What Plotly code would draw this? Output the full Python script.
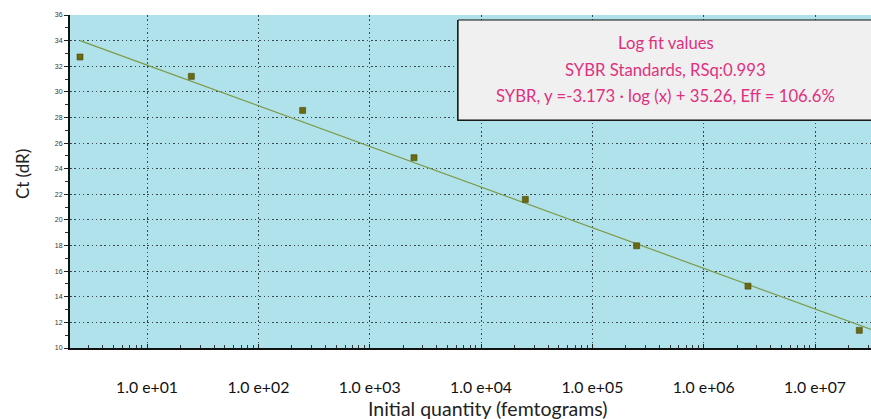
import math
import plotly.graph_objects as go

# ---- data ----
quantity_fg = [2.5, 25, 250, 2500, 25000, 250000, 2500000, 25000000]
ct_dr = [32.72, 31.21, 28.55, 24.86, 21.60, 17.98, 14.83, 11.38]
fit_slope = -3.173
fit_intercept = 35.26
fit_x_ends = [2.5, 4.0e7]
x_tick_vals = [1e1, 1e2, 1e3, 1e4, 1e5, 1e6, 1e7]
x_tick_text = ["1.0 e+01", "1.0 e+02", "1.0 e+03", "1.0 e+04", "1.0 e+05", "1.0 e+06", "1.0 e+07"]
y_tick_vals = [10, 12, 14, 16, 18, 20, 22, 24, 26, 28, 30, 32, 34, 36]
box_lines = ["Log fit values",
             "SYBR Standards, RSq:0.993",
             "SYBR, y =-3.173 · log (x) + 35.26, Eff = 106.6%"]

fit_y = [fit_slope * math.log10(v) + fit_intercept for v in fit_x_ends]
minor_x = [m * 10 ** e for e in range(0, 8) for m in range(2, 10)]

FONT = "Lato"
GRID = "#3a474f"
DOTS = "1.5px,2.8px"

fig = go.Figure()
fig.add_trace(go.Scatter(x=fit_x_ends, y=fit_y, mode="lines",
                         line=dict(color="#7d9a48", width=1.2),
                         hoverinfo="skip", showlegend=False))
fig.add_trace(go.Scatter(x=quantity_fg, y=ct_dr, mode="markers",
                         marker=dict(symbol="square", size=6, color="#6b6a12",
                                     line=dict(color="#4a4a08", width=0.6)),
                         showlegend=False))

fig.update_layout(
    width=871, height=419,
    margin=dict(l=70, r=0, t=15, b=71),
    paper_bgcolor="white",
    plot_bgcolor="#b0e2eb",
    font=dict(family=FONT, color="#222222"),
    xaxis=dict(
        type="log",
        range=[0.308, 7.503],
        tickvals=x_tick_vals, ticktext=x_tick_text,
        tickfont=dict(size=15.8, color="#111111", family=FONT),
        ticks="inside", ticklen=4, tickcolor="#222222",
        ticklabelstandoff=24,
        minor=dict(tickvals=minor_x, ticks="inside", ticklen=3,
                   tickcolor="#333333", showgrid=False),
        showgrid=True, gridcolor=GRID, griddash=DOTS, gridwidth=1,
        showline=True, linecolor="#111111", linewidth=2,
        zeroline=False,
    ),
    yaxis=dict(
        range=[10, 36],
        tickvals=y_tick_vals,
        tickfont=dict(size=7, color="#333333", family="Liberation Sans"),
        ticks="outside", ticklen=4, tickcolor="#222222",
        minor=dict(dtick=1, ticks="outside", ticklen=3, tickcolor="#333333", showgrid=False),
        showgrid=True, gridcolor=GRID, griddash=DOTS, gridwidth=1,
        showline=True, linecolor="#111111", linewidth=2,
        zeroline=False,
    ),
)

# axis titles
fig.add_annotation(text="Initial quantity (femtograms)", xref="paper", yref="paper",
                   x=0.522, y=-0.183, xanchor="center", yanchor="middle", showarrow=False,
                   font=dict(size=19.5, family=FONT, color="#222222"))
fig.add_annotation(text="Ct (dR)", xref="paper", yref="paper", textangle=-90,
                   x=-0.06, y=0.5225, xanchor="center", yanchor="middle", showarrow=False,
                   font=dict(size=17, family=FONT, color="#222222"))

# fit info box with shadow
fig.add_shape(type="rect", xref="paper", yref="paper",
              x0=0.4832, x1=1.01, y0=0.6817, y1=0.985,
              fillcolor="#222222", line=dict(width=0), layer="above")
fig.add_shape(type="rect", xref="paper", yref="paper",
              x0=0.4845, x1=1.01, y0=0.6847, y1=0.985,
              fillcolor="#f0f0f0", line=dict(color="#111111", width=1), layer="above")
for txt, yy in zip(box_lines, [0.916, 0.835, 0.757]):
    fig.add_annotation(text=txt, xref="paper", yref="paper", x=0.744, y=yy,
                       xanchor="center", yanchor="middle", showarrow=False,
                       font=dict(size=16.7, family=FONT, color="#e0307f"))

fig.write_html("out.html")
